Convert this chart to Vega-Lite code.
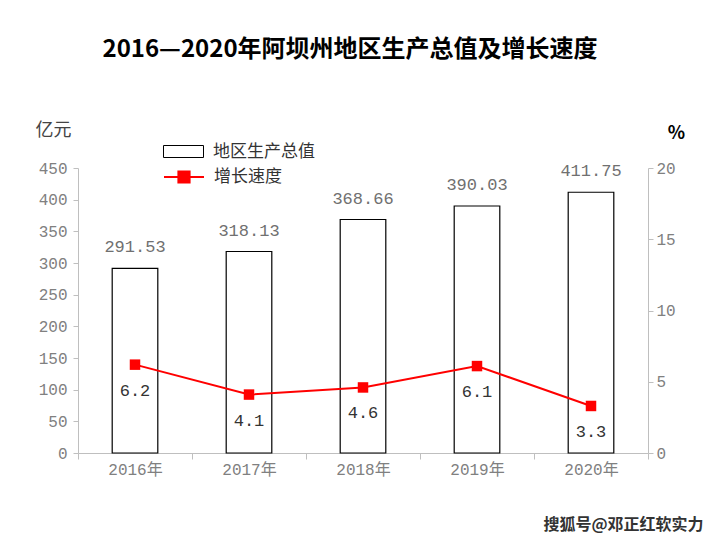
{
  "$schema": "https://vega.github.io/schema/vega-lite/v6.json",
  "width": 570,
  "height": 285,
  "autosize": {"type": "none"},
  "padding": {"left": 78, "top": 168, "right": 70, "bottom": 88},
  "background": "white",
  "title": {
    "text": "2016—2020年阿坝州地区生产总值及增长速度",
    "font": "Noto Sans CJK SC",
    "fontSize": 24,
    "fontWeight": "bold",
    "color": "#000000",
    "anchor": "middle",
    "dx": -13,
    "offset": 59
  },
  "data": {
    "values": [
      {"year": "2016年", "gdp": 291.53, "growth": 6.2},
      {"year": "2017年", "gdp": 318.13, "growth": 4.1},
      {"year": "2018年", "gdp": 368.66, "growth": 4.6},
      {"year": "2019年", "gdp": 390.03, "growth": 6.1},
      {"year": "2020年", "gdp": 411.75, "growth": 3.3}
    ]
  },
  "encoding": {
    "x": {
      "field": "year",
      "type": "ordinal",
      "scale": {"paddingInner": 0, "paddingOuter": 0},
      "axis": {
        "title": "搜狐号@邓正红软实力",
        "titleFont": "Noto Sans CJK SC",
        "titleFontSize": 16,
        "titleFontWeight": "bold",
        "titleColor": "#333333",
        "titleAlign": "right",
        "titleBaseline": "alphabetic",
        "titleX": 625,
        "titleY": 76,
        "labelAngle": 0,
        "labelFont": "Liberation Mono, Noto Sans CJK SC",
        "labelFontSize": 16,
        "labelColor": "#808080",
        "labelPadding": 2,
        "tickBand": "extent",
        "tickSize": 6,
        "tickColor": "#bfbfbf",
        "domainColor": "#bfbfbf",
        "grid": false
      }
    }
  },
  "layer": [
    {
      "encoding": {
        "y": {
          "field": "gdp",
          "type": "quantitative",
          "scale": {"domain": [0, 450], "nice": false},
          "axis": {
            "values": [0, 50, 100, 150, 200, 250, 300, 350, 400, 450],
            "title": "亿元",
            "titleAngle": 0,
            "titleAlign": "left",
            "titleBaseline": "alphabetic",
            "titleX": -43,
            "titleY": -33,
            "titleFont": "Noto Sans CJK SC",
            "titleFontSize": 18,
            "titleFontWeight": "normal",
            "titleColor": "#444444",
            "labelFont": "Liberation Mono",
            "labelFontSize": 16,
            "labelColor": "#808080",
            "labelPadding": 6,
            "tickSize": 5,
            "tickColor": "#bfbfbf",
            "domainColor": "#bfbfbf",
            "grid": false
          }
        }
      },
      "layer": [
        {
          "mark": {"type": "bar", "width": {"band": 0.4}, "stroke": "#000000", "strokeWidth": 1.2},
          "encoding": {
            "fill": {
              "datum": "地区生产总值",
              "type": "nominal",
              "scale": {"range": ["#ffffff"]},
              "legend": {
                "orient": "none",
                "legendX": 85,
                "legendY": -37,
                "title": null,
                "padding": 0,
                "symbolType": "M-1,-0.3H1V0.3H-1Z",
                "symbolSize": 1600,
                "symbolStrokeColor": "#000000",
                "symbolStrokeWidth": 1,
                "symbolFillColor": "#ffffff",
                "labelFont": "Noto Sans CJK SC",
                "labelFontSize": 17,
                "labelColor": "#333333",
                "labelOffset": 9
              }
            }
          }
        },
        {
          "mark": {"type": "text", "dy": -21, "font": "Liberation Mono", "fontSize": 17, "color": "#707070"},
          "encoding": {"text": {"field": "gdp", "type": "quantitative", "format": ".2f"}}
        }
      ]
    },
    {
      "encoding": {
        "y": {
          "field": "growth",
          "type": "quantitative",
          "scale": {"domain": [0, 20], "nice": false},
          "axis": {
            "orient": "right",
            "values": [0, 5, 10, 15, 20],
            "title": "%",
            "titleAngle": 0,
            "titleAlign": "center",
            "titleBaseline": "alphabetic",
            "titleX": 28,
            "titleY": -30,
            "titleFont": "Noto Sans CJK SC",
            "titleFontSize": 18,
            "titleFontWeight": "bold",
            "titleColor": "#000000",
            "labelFont": "Liberation Mono",
            "labelFontSize": 16,
            "labelColor": "#808080",
            "labelPadding": 3,
            "tickSize": 5,
            "tickColor": "#bfbfbf",
            "domainColor": "#bfbfbf",
            "grid": false
          }
        }
      },
      "layer": [
        {
          "mark": {"type": "line", "strokeWidth": 2},
          "encoding": {
            "stroke": {
              "datum": "增长速度",
              "type": "nominal",
              "scale": {"range": ["#ff0000"]},
              "legend": {
                "orient": "none",
                "legendX": 85,
                "legendY": -12,
                "title": null,
                "padding": 0,
                "symbolType": "M-1,0H1M-0.28,-0.28H0.28V0.28H-0.28Z",
                "symbolSize": 1600,
                "symbolStrokeWidth": 2,
                "symbolStrokeColor": "#ff0000",
                "symbolFillColor": "#ff0000",
                "labelFont": "Noto Sans CJK SC",
                "labelFontSize": 17,
                "labelColor": "#333333",
                "labelOffset": 9
              }
            }
          }
        },
        {
          "mark": {"type": "point", "shape": "square", "filled": true, "color": "#ff0000", "size": 110, "opacity": 1}
        },
        {
          "mark": {"type": "text", "dy": 26, "font": "Liberation Mono", "fontSize": 17, "color": "#333333"},
          "encoding": {"text": {"field": "growth", "type": "quantitative", "format": ".1f"}}
        }
      ]
    }
  ],
  "resolve": {"scale": {"y": "independent"}},
  "config": {
    "view": {"stroke": null},
    "axis": {"grid": false}
  }
}
